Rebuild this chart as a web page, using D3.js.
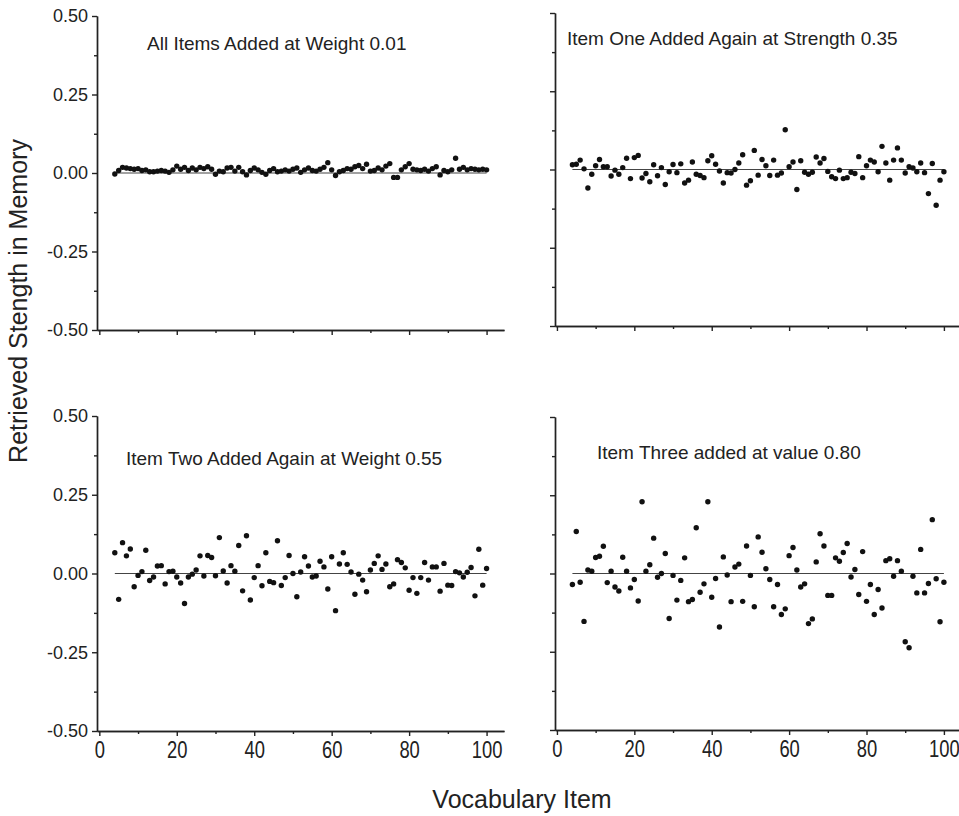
<!DOCTYPE html>
<html>
<head>
<meta charset="utf-8">
<script src="https://cdn.jsdelivr.net/npm/d3@7/dist/d3.min.js"></script>
<style>
    body { margin: 0; background: #fff; }
    svg { display: block; }
    text { font-family: "Liberation Sans", Arial, sans-serif; fill: #222; }
    .axis path, .axis line { stroke: #222; stroke-width: 1.4; }
    .axis text { font-size: 18px; fill: #222; }
    .axis.x text { font-size: 23px; }
</style>
</head>
<body>
<svg id="chart" width="959" height="816"></svg>
<script>
    // Vocabulary items shown on the x axis (items 1-3 are off the left edge)
    var items = [4, 5, 6, 7, 8, 9, 10, 11, 12, 13, 14, 15, 16, 17, 18, 19, 20, 21, 22, 23,
        24, 25, 26, 27, 28, 29, 30, 31, 32, 33, 34, 35, 36, 37, 38, 39, 40, 41, 42, 43,
        44, 45, 46, 47, 48, 49, 50, 51, 52, 53, 54, 55, 56, 57, 58, 59, 60, 61, 62, 63,
        64, 65, 66, 67, 68, 69, 70, 71, 72, 73, 74, 75, 76, 77, 78, 79, 80, 81, 82, 83,
        84, 85, 86, 87, 88, 89, 90, 91, 92, 93, 94, 95, 96, 97, 98, 99, 100];

    // Retrieved strength per item
    var weight001 = [-0.003, 0.008, 0.018, 0.016, 0.014, 0.012, 0.014, 0.008, 0.010, 0.004,
        0.004, 0.006, 0.008, 0.006, 0.002, 0.010, 0.022, 0.012, 0.018, 0.008,
        0.016, 0.010, 0.018, 0.014, 0.020, 0.012, -0.004, 0.006, 0.004, 0.016,
        0.018, 0.006, 0.018, 0.004, -0.006, 0.008, 0.016, 0.010, 0.002, -0.004,
        0.008, 0.014, 0.004, 0.006, 0.010, 0.006, 0.012, 0.016, 0.002, 0.010,
        0.016, 0.008, 0.006, 0.012, 0.018, 0.033, 0.010, -0.008, 0.004, 0.008,
        0.014, 0.012, 0.020, 0.024, 0.014, 0.028, 0.006, 0.008, 0.016, 0.010,
        0.022, 0.030, -0.014, -0.014, 0.010, 0.020, 0.030, 0.012, 0.010, 0.008,
        0.012, 0.006, 0.014, 0.020, -0.006, 0.008, 0.004, 0.010, 0.047, 0.012,
        0.018, 0.010, 0.014, 0.012, 0.010, 0.012, 0.010];

    var itemOne035 = [0.015, 0.017, 0.030, 0.002, -0.059, -0.015, 0.012, 0.032, 0.009, 0.009,
        -0.021, -0.002, -0.015, 0.006, 0.036, -0.029, 0.038, 0.045, -0.027, -0.013,
        -0.039, 0.015, -0.020, 0.006, -0.048, -0.007, 0.016, -0.010, 0.018, -0.043,
        -0.034, 0.024, -0.015, -0.019, -0.026, 0.028, 0.044, 0.017, -0.005, -0.043,
        -0.010, -0.011, 0.000, 0.021, 0.047, -0.050, -0.036, 0.061, -0.018, 0.032,
        0.012, -0.019, 0.030, -0.018, -0.011, 0.127, 0.009, 0.024, -0.064, 0.028,
        -0.009, -0.015, -0.009, 0.040, 0.021, 0.035, -0.006, -0.023, -0.029, -0.002,
        -0.029, -0.026, -0.009, -0.013, 0.041, -0.026, 0.012, 0.030, 0.024, -0.007,
        0.074, 0.021, -0.034, 0.030, 0.069, 0.030, -0.011, 0.009, 0.005, -0.007,
        0.021, -0.010, -0.077, 0.019, -0.114, -0.034, -0.007];

    var itemTwo055 = [0.066, -0.082, 0.098, 0.056, 0.078, -0.042, -0.006, 0.006, 0.074, -0.022,
        -0.011, 0.024, 0.025, -0.033, 0.006, 0.007, -0.011, -0.030, -0.095, -0.011,
        -0.002, 0.011, 0.056, -0.008, 0.057, 0.051, -0.007, 0.114, 0.008, -0.030,
        0.025, 0.007, 0.089, -0.055, 0.120, -0.084, -0.013, 0.025, -0.039, 0.066,
        -0.025, -0.029, 0.104, -0.038, -0.013, 0.057, 0.000, -0.074, 0.005, 0.053,
        0.024, -0.011, -0.008, 0.039, 0.021, -0.049, 0.053, -0.118, 0.030, 0.066,
        0.029, 0.005, -0.066, -0.002, -0.021, -0.058, 0.011, 0.032, 0.056, 0.013,
        0.030, -0.042, -0.033, 0.044, 0.035, 0.018, -0.053, -0.013, -0.063, -0.013,
        0.035, -0.021, 0.021, 0.021, -0.056, 0.032, -0.037, -0.038, 0.006, 0.002,
        -0.011, 0.004, 0.019, -0.071, 0.077, -0.037, 0.016];

    var itemThree080 = [-0.035, 0.134, -0.028, -0.153, 0.011, 0.007, 0.051, 0.055, 0.087, -0.029,
        0.007, -0.043, -0.056, 0.052, 0.007, -0.046, -0.019, -0.088, 0.229, 0.007,
        0.028, 0.113, -0.012, 0.000, 0.064, -0.144, -0.006, -0.085, -0.022, 0.050,
        -0.090, -0.083, 0.146, -0.060, -0.033, 0.229, -0.076, -0.016, -0.171, 0.053,
        -0.005, -0.090, 0.021, 0.030, -0.089, 0.088, -0.006, -0.106, 0.117, 0.068,
        0.015, -0.019, -0.106, -0.035, -0.131, -0.113, 0.057, 0.083, 0.011, -0.043,
        -0.033, -0.160, -0.145, 0.037, 0.127, 0.088, -0.070, -0.070, 0.050, 0.039,
        0.067, 0.096, -0.011, 0.013, -0.067, 0.070, -0.089, -0.035, -0.131, -0.051,
        -0.110, 0.041, 0.047, -0.009, 0.041, 0.007, -0.218, -0.237, -0.009, -0.062,
        0.077, -0.062, -0.032, 0.172, -0.017, -0.154, -0.028];

    var panelTitles = ["All Items Added at Weight 0.01",
        "Item One Added Again at Strength 0.35",
        "Item Two Added Again at Weight 0.55",
        "Item Three added at value 0.80"];

    var yTicks = [-0.5, -0.25, 0, 0.25, 0.5];
    var yMinorTicks = [-0.375, -0.125, 0.125, 0.375];
    var xTicks = [0, 20, 40, 60, 80, 100];
    var xMinorTicks = [10, 30, 50, 70, 90];

    var yTitle = "Retrieved Stength in Memory";
    var xTitle = "Vocabulary Item";

    // Where each panel sits on the page (the scan is slightly skewed)
    var layout = [
        { values: weight001, left: 97, right: 504, xDomain: [-0.6, 104.5], top: 16, bottom: 330,
          titleX: 147, titleY: 50, yLabels: true, xLabels: false },
        { values: itemOne035, left: 555, right: 959, xDomain: [-0.5, 103.9], top: 13, bottom: 326,
          titleX: 567, titleY: 45, yLabels: false, xLabels: false },
        { values: itemTwo055, left: 97, right: 504, xDomain: [-0.6, 104.5], top: 416, bottom: 731,
          titleX: 126, titleY: 465, yLabels: true, xLabels: true },
        { values: itemThree080, left: 555, right: 959, xDomain: [-0.5, 103.9], top: 417, bottom: 730,
          titleX: 597, titleY: 459, yLabels: false, xLabels: true }
    ];

    var svg = d3.select("#chart");

    function drawPanel(p, title) {
        var x = d3.scaleLinear().domain(p.xDomain).range([p.left, p.right]);
        var y = d3.scaleLinear().domain([-0.5, 0.5]).range([p.bottom, p.top]);
        var g = svg.append("g");

        // minor ticks first, so the main axis line sits on top
        g.append("g")
            .attr("class", "axis y")
            .attr("transform", "translate(" + p.left + ",0)")
            .call(d3.axisLeft(y).tickValues(yMinorTicks).tickSize(3).tickSizeOuter(0).tickFormat(""));
        g.append("g")
            .attr("class", "axis y")
            .attr("transform", "translate(" + p.left + ",0)")
            .call(d3.axisLeft(y).tickValues(yTicks).tickSize(5).tickSizeOuter(0).tickPadding(4)
                .tickFormat(function(d) { return p.yLabels ? d.toFixed(2) : ""; }));

        g.append("g")
            .attr("class", "axis x")
            .attr("transform", "translate(0," + p.bottom + ")")
            .call(d3.axisBottom(x).tickValues(xMinorTicks).tickSize(3).tickSizeOuter(0).tickFormat(""));
        var xAxis = g.append("g")
            .attr("class", "axis x")
            .attr("transform", "translate(0," + p.bottom + ")")
            .call(d3.axisBottom(x).tickValues(xTicks).tickSize(5).tickSizeOuter(0).tickPadding(6)
                .tickFormat(function(d) { return p.xLabels ? d : ""; }));
        // the scanned x labels are tall and narrow
        xAxis.selectAll("text").attr("transform", "scale(0.8,1)");

        // zero reference line across the items
        g.append("line")
            .attr("x1", x(items[0]))
            .attr("x2", x(items[items.length - 1]))
            .attr("y1", y(0))
            .attr("y2", y(0))
            .attr("stroke", "#444")
            .attr("stroke-width", 1.2);

        g.append("g")
            .selectAll("circle")
            .data(p.values)
            .join("circle")
            .attr("cx", function(d, i) { return x(items[i]); })
            .attr("cy", function(d) { return y(d); })
            .attr("r", 2.7)
            .attr("fill", "#111");

        g.append("text")
            .attr("x", p.titleX)
            .attr("y", p.titleY)
            .attr("font-size", 19)
            .text(title);
    }

    for (var i = 0; i < layout.length; i++) {
        drawPanel(layout[i], panelTitles[i]);
    }

    svg.append("text")
        .attr("transform", "translate(27,301) rotate(-90)")
        .attr("text-anchor", "middle")
        .attr("font-size", 25)
        .text(yTitle);

    svg.append("text")
        .attr("x", 522)
        .attr("y", 808)
        .attr("text-anchor", "middle")
        .attr("font-size", 25)
        .text(xTitle);
</script>
</body>
</html>
